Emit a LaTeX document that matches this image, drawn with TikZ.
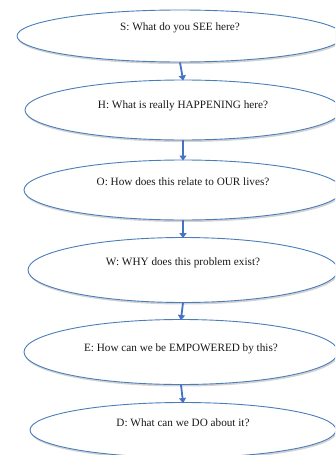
\documentclass[tikz,border=0pt]{standalone}
\usepackage{fontspec}
\setmainfont{Liberation Serif}
\usetikzlibrary{shapes.geometric,arrows.meta,shadows}
\definecolor{ofblue}{RGB}{74,126,187}
\definecolor{arblue}{RGB}{68,114,196}
\tikzset{
  oval/.style={ellipse, draw=ofblue, line width=0.9pt, fill=white, inner sep=0pt,
    drop shadow={opacity=0.35, shadow xshift=0.8pt, shadow yshift=-2pt}},
  qtext/.style={font=\fontsize{11.2pt}{13pt}\selectfont, inner sep=0pt, text=black!90},
  conn/.style={draw=arblue, line width=1.8pt, -{Triangle[width=7pt,length=5pt]}, shorten >=-1pt}
}
\begin{document}
\begin{tikzpicture}[x=1pt,y=1pt]
\useasboundingbox (0,0) rectangle (335,-455);
\clip (0,0) rectangle (335,-455);
\node[oval, minimum width=326pt, minimum height=52pt] (e1) at (180,-36) {};
\node[oval, minimum width=316pt, minimum height=60pt] (e2) at (183,-110) {};
\node[oval, minimum width=318pt, minimum height=60pt] (e3) at (183,-190) {};
\node[oval, minimum width=310pt, minimum height=65pt] (e4) at (183,-270) {};
\node[oval, minimum width=314pt, minimum height=65pt] (e5) at (181,-352) {};
\node[oval, minimum width=306pt, minimum height=55pt] (e6) at (183,-430) {};
\node[qtext] (t1) at (180,-28) {S: What do you SEE here?};
\node[qtext] (t2) at (183,-106) {H: What is really HAPPENING here?};
\node[qtext] (t3) at (183,-182) {O: How does this relate to OUR lives?};
\node[qtext] (t4) at (183,-263) {W: WHY does this problem exist?};
\node[qtext] (t5) at (181,-349) {E: How can we be EMPOWERED by this?};
\node[qtext] (t6) at (183,-423) {D: What can we DO about it?};
\draw[conn] (e1.south) -- (e2.north);
\draw[conn] (e2.south) -- (e3.north);
\draw[conn] (e3.south) -- (e4.north);
\draw[conn] (e4.south) -- (e5.north);
\draw[conn] (e5.south) -- (e6.north);
\end{tikzpicture}
\end{document}
